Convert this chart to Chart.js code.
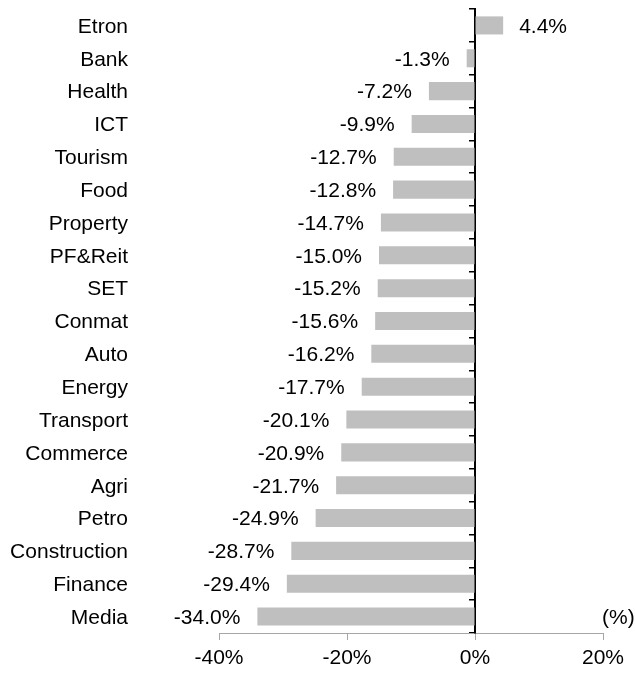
<!DOCTYPE html>
<html>
<head>
<meta charset="utf-8">
<script src="https://cdn.jsdelivr.net/npm/chart.js@4.4.1/dist/chart.umd.min.js"></script>
<style>
html,body{margin:0;padding:0;background:#fff;}
#wrap{width:635px;height:673px;position:relative;}
</style>
</head>
<body>
<div id="wrap"><canvas id="c" width="635" height="673"></canvas></div>
<script>
const categories = ["Etron","Bank","Health","ICT","Tourism","Food","Property","PF&Reit","SET","Conmat","Auto","Energy","Transport","Commerce","Agri","Petro","Construction","Finance","Media"];
const values = [4.4,-1.3,-7.2,-9.9,-12.7,-12.8,-14.7,-15.0,-15.2,-15.6,-16.2,-17.7,-20.1,-20.9,-21.7,-24.9,-28.7,-29.4,-34.0];
const xTickMin = -40, xTickMax = 20, xTickStep = 20;
const unitLabel = "(%)";

const FONT = "'Liberation Sans', Arial, sans-serif";
const FS = 21;

const valueLabels = {
  id: 'valueLabels',
  afterDatasetsDraw(chart) {
    const ctx = chart.ctx;
    const meta = chart.getDatasetMeta(0);
    ctx.save();
    ctx.font = FS + 'px ' + FONT;
    ctx.fillStyle = '#000';
    ctx.textBaseline = 'middle';
    meta.data.forEach((bar, i) => {
      const v = values[i];
      const txt = v.toFixed(1) + '%';
      if (v >= 0) { ctx.textAlign = 'left'; ctx.fillText(txt, bar.x + 16, bar.y + 1.5); }
      else { ctx.textAlign = 'right'; ctx.fillText(txt, bar.x - 17, bar.y + 1.5); }
    });
    const ys = chart.scales.y;
    ctx.textAlign = 'left';
    ctx.fillText(unitLabel, chart.chartArea.right - 1, ys.getPixelForValue(categories.length - 1) + 1.5);
    ctx.restore();
  }
};

new Chart(document.getElementById('c'), {
  type: 'bar',
  data: {
    labels: categories,
    datasets: [{
      data: values,
      backgroundColor: '#bfbfbf',
      borderWidth: 0,
      categoryPercentage: 1,
      barPercentage: 0.55,
      yAxisID: 'y'
    }]
  },
  options: {
    indexAxis: 'y',
    responsive: false,
    animation: false,
    layout: { padding: { left: 0, right: 32, top: 9, bottom: 0 } },
    plugins: { legend: { display: false }, tooltip: { enabled: false } },
    scales: {
      x: {
        min: xTickMin, max: xTickMax,
        ticks: {
          stepSize: xTickStep,
          callback: v => v + '%',
          color: '#000',
          font: { family: FONT, size: FS },
          padding: 6,
          maxRotation: 0
        },
        grid: { drawOnChartArea: false, drawTicks: true, tickLength: 7, color: '#a6a6a6', lineWidth: 1 },
        border: { display: true, color: '#a6a6a6', width: 1 },
        afterFit(s) { s.height = 40; s.paddingLeft = 0; s.paddingRight = 0; }
      },
      y: {
        position: 'left',
        offset: true,
        grid: { display: false, drawTicks: false, offset: true },
        border: { display: false },
        ticks: { color: '#000', font: { family: FONT, size: FS }, padding: 91, autoSkip: false, labelOffset: 1.5 },
        afterFit(s) { s.width = 219; s.paddingTop = 0; s.paddingBottom = 0; }
      },
      y0: {
        type: 'category',
        axis: 'y',
        position: { x: 0 },
        offset: true,
        ticks: { display: false },
        grid: { offset: true, drawOnChartArea: false, drawTicks: true, tickLength: 5, color: '#000', lineWidth: 1.5 },
        border: { display: true, color: '#000', width: 2 },
        afterFit(s) { s.paddingTop = 0; s.paddingBottom = 0; }
      }
    }
  },
  plugins: [valueLabels]
});
</script>
</body>
</html>
